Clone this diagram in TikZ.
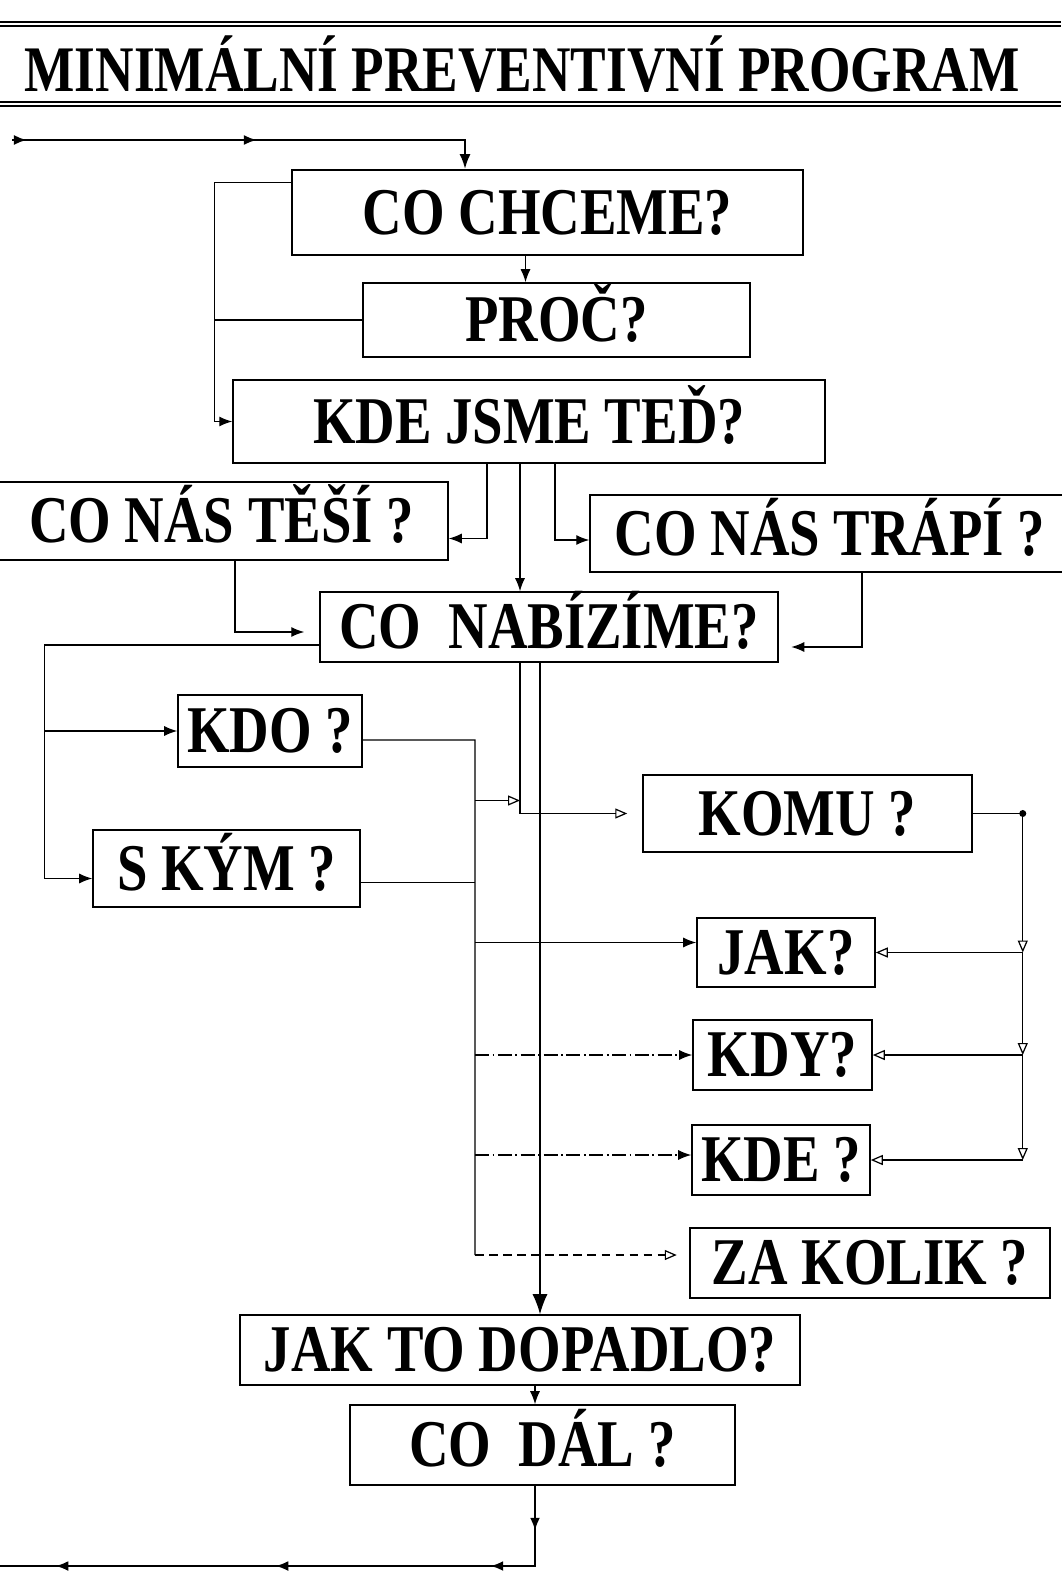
\documentclass[tikz,border=0pt]{standalone}
\usepackage{fontspec}
\setmainfont{Liberation Serif}[FakeStretch=0.82]
\usetikzlibrary{arrows.meta,decorations.markings}

\tikzset{
  otazka/.style={draw, line width=.9pt, inner sep=0pt, text height=25pt, text depth=0pt,
    font=\bfseries\fontsize{38}{40}\selectfont},
  spoj/.style={line width=.7pt},
  sipka/.style={spoj, -{Latex[length=2.6mm,width=2mm]}},
  otevrena/.style={spoj, -{Triangle[open,length=2.4mm,width=2mm]}},
  carkovana/.style={dash pattern=on 5pt off 3pt},
  teckovana/.style={dash pattern=on 8pt off 2pt on 1pt off 2pt},
  tlusta/.style={line width=1.4pt},
  dvojita/.style={line width=.9pt, double distance=1.6pt},
}

\begin{document}
\begin{tikzpicture}[x=0.02cm, y=-0.02cm]
\useasboundingbox (0,0) rectangle (1061,1574);

% nadpis
\node[font=\bfseries\fontsize{37}{40}\selectfont, text height=25pt, text depth=0pt] (nazev) at (522,70) {MINIMÁLNÍ PREVENTIVNÍ PROGRAM};
\draw[dvojita] (0,24) -- (1061,24);
\draw[dvojita] (0,104) -- (1061,104);

% otazky
\node[otazka, minimum width=10.22cm, minimum height=1.7cm] (chceme) at (547.5,212.5) {CO CHCEME?};
\node[otazka, minimum width=7.74cm, minimum height=1.48cm] (proc) at (556.5,320) {PROČ?};
\node[otazka, minimum width=11.84cm, minimum height=1.66cm] (kde) at (529,421.5) {KDE JSME TEĎ?};
\node[otazka, minimum width=9.06cm, minimum height=1.56cm] (tesi) at (221.5,521) {CO NÁS TĚŠÍ ?};
\node[otazka, minimum width=9.6cm, minimum height=1.54cm] (trapi) at (830,533.5) {CO NÁS TRÁPÍ ?};
\node[otazka, minimum width=9.16cm, minimum height=1.4cm] (nabizime) at (549,627) {CO\ \ NABÍZÍME?};
\node[otazka, minimum width=3.68cm, minimum height=1.44cm] (kdo) at (270,731) {KDO ?};
\node[otazka, minimum width=5.34cm, minimum height=1.54cm] (skym) at (226.5,868.5) {S KÝM ?};
\node[otazka, minimum width=6.58cm, minimum height=1.54cm] (komu) at (807.5,813.5) {KOMU ?};
\node[otazka, minimum width=3.56cm, minimum height=1.38cm] (jak) at (786,952.5) {JAK?};
\node[otazka, minimum width=3.58cm, minimum height=1.4cm] (kdy) at (782.5,1055) {KDY?};
\node[otazka, minimum width=3.56cm, minimum height=1.4cm] (kdem) at (781,1160) {KDE ?};
\node[otazka, minimum width=7.2cm, minimum height=1.4cm] (zakolik) at (870,1263) {ZA KOLIK ?};
\node[otazka, minimum width=11.2cm, minimum height=1.4cm] (dopadlo) at (520,1350) {JAK TO DOPADLO?};
\node[otazka, minimum width=7.7cm, minimum height=1.6cm] (dal) at (542.5,1445) {CO\ \ DÁL ?};

% vstup
\coordinate (vstup) at (12,140);
\draw[tlusta, -{Latex[length=3mm,width=2.2mm]}, postaction={decorate},
  decoration={markings, mark=at position .3cm with {\arrow{Latex[length=2.6mm,width=2mm]}},
    mark=at position 4.9cm with {\arrow{Latex[length=2.6mm,width=2mm]}}}]
  (vstup) -| ([xshift=-1.65cm]chceme.north);

% smycka vlevo
\draw[sipka] ([yshift=.6cm]chceme.west) -- ++(-77,0) coordinate (levy) |- (kde.west);
\draw[spoj] (proc.west) -- (proc.west -| levy);
\draw[sipka] ([xshift=-.62cm]proc.north |- chceme.south) -- ([xshift=-.62cm]proc.north);

% vetve z kde
\draw[sipka] ([xshift=-.84cm]kde.south) |- ([yshift=-.35cm]tesi.east);
\draw[sipka] ([xshift=-.18cm]kde.south) -- ([xshift=-.18cm]kde.south |- nabizime.north);
\draw[sipka] ([xshift=.52cm]kde.south) |- ([yshift=-.13cm]trapi.west);
\draw[sipka, shorten >=.3cm] ([xshift=.27cm]tesi.south) |- ([yshift=-.1cm]nabizime.west);
\draw[sipka, shorten >=.25cm] ([xshift=.64cm]trapi.south) |- ([yshift=-.4cm]nabizime.east);

% z nabizime vlevo
\draw[sipka] ([yshift=-.36cm]nabizime.west) -- ++(-275,0) coordinate (rozvod) |- ([yshift=-.2cm]skym.west);
\draw[sipka] (rozvod |- kdo.west) -- (kdo.west);

% z nabizime dolu
\draw[otevrena, shorten >=.3cm] ([xshift=-.58cm]nabizime.south)
  -- ([xshift=-.58cm]nabizime.south |- komu.west) coordinate (ohyb) -- (komu.west);
\draw[spoj, -{Latex[length=4mm,width=3mm]}] ([xshift=-.18cm]nabizime.south) -- ([xshift=-.18cm]nabizime.south |- dopadlo.north);

% sber od kdo a s kym
\coordinate (sber) at (475,740);
\draw[spoj] ([yshift=-.18cm]kdo.east) -- (sber) -- ([yshift=.16cm]zakolik.west -| sber);
\draw[spoj] ([yshift=-.28cm]skym.east) -- ([yshift=-.28cm]skym.east -| sber);
\draw[otevrena] ([yshift=.26cm]ohyb -| sber) -- ([yshift=.26cm]ohyb);
\draw[sipka] ([yshift=.2cm]jak.west -| sber) -- ([yshift=.2cm]jak.west);
\draw[sipka, teckovana] (sber |- kdy.west) -- (kdy.west);
\draw[sipka, teckovana] ([yshift=.1cm]kdem.west -| sber) -- ([yshift=.1cm]kdem.west);
\draw[otevrena, carkovana, shorten >=.25cm] ([yshift=.16cm]zakolik.west -| sber) -- ([yshift=.16cm]zakolik.west);

% od komu vpravo
\path (komu.east) ++(50,0) coordinate (pravo);
\draw[spoj] (komu.east) -- (pravo);
\fill (pravo) circle (2pt);
\draw[otevrena] (pravo) -- (pravo |- jak.east);
\draw[otevrena] (pravo |- jak.east) -- (pravo |- kdy.east);
\draw[otevrena] (pravo |- kdy.east) -- (pravo |- kdem.east);
\draw[otevrena] (pravo |- jak.east) -- (jak.east);
\draw[otevrena] (pravo |- kdy.east) -- (kdy.east);
\draw[otevrena] (pravo |- kdem.east) -- (kdem.east);

% konec
\draw[sipka] ([xshift=.3cm]dopadlo.south) -- ([xshift=.3cm]dopadlo.south |- dal.north);
\coordinate (vystup) at (0,1566);
\draw[tlusta, postaction={decorate},
  decoration={markings, mark=at position .9cm with {\arrow{Latex[length=2.6mm,width=2mm]}},
    mark=at position 2.5cm with {\arrow{Latex[length=2.6mm,width=2mm]}},
    mark=at position 6.8cm with {\arrow{Latex[length=2.6mm,width=2mm]}},
    mark=at position 11.2cm with {\arrow{Latex[length=2.6mm,width=2mm]}}}]
  ([xshift=-.15cm]dal.south) |- (vystup);
\end{tikzpicture}
\end{document}
